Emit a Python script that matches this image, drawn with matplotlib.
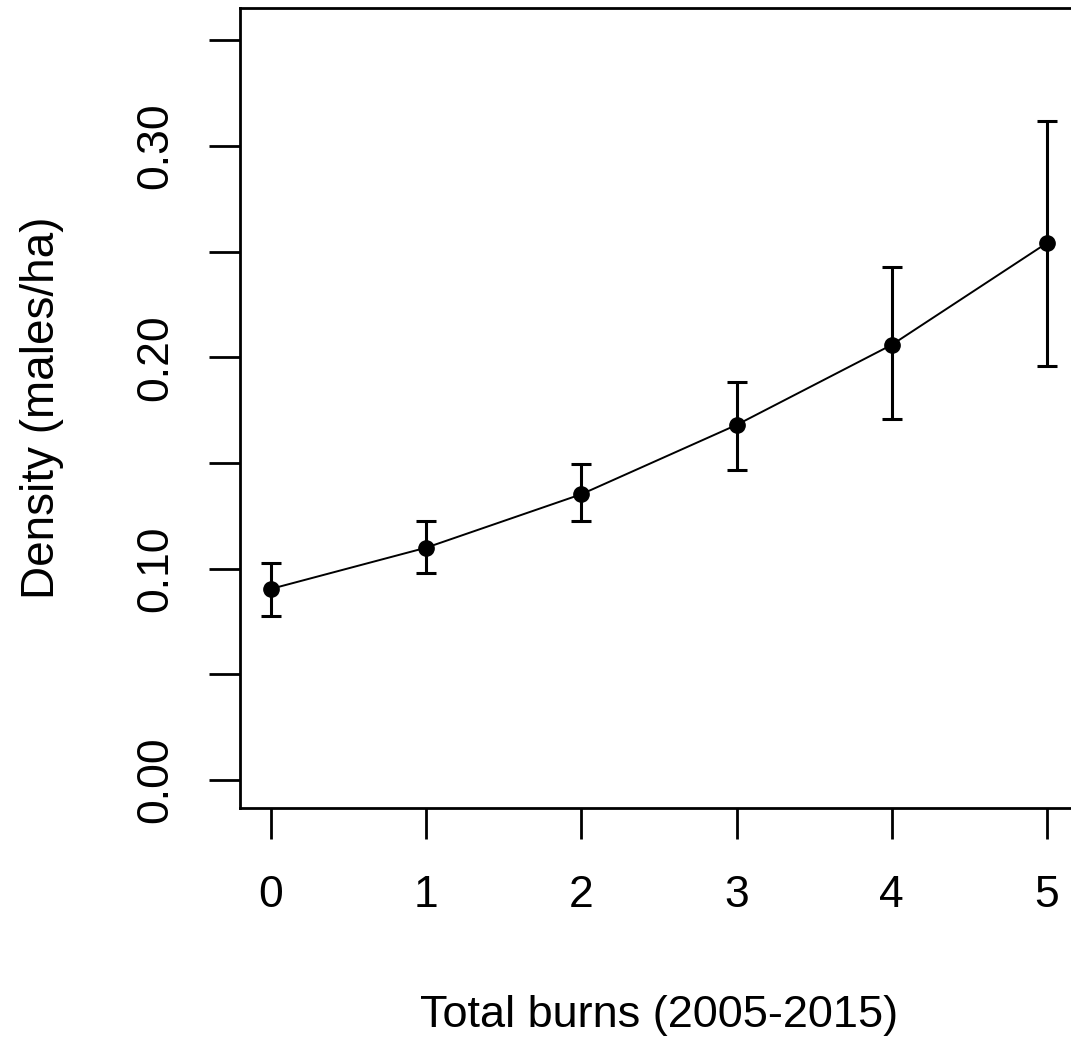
import matplotlib
matplotlib.use("Agg")
import matplotlib.pyplot as plt
import numpy as np

plt.rcParams["font.family"] = ["Liberation Sans", "DejaVu Sans"]

# estimated density per number of burns, with upper/lower CI
burns = [0, 1, 2, 3, 4, 5]
density = [0.0904, 0.1099, 0.1352, 0.1680, 0.2059, 0.2541]
upper = [0.1027, 0.1227, 0.1494, 0.1885, 0.2425, 0.3119]
lower = [0.0776, 0.0978, 0.1226, 0.1467, 0.1708, 0.1959]

yticks = [0.00, 0.05, 0.10, 0.15, 0.20, 0.25, 0.30, 0.35]
ytick_labels = ["0.00", "", "0.10", "", "0.20", "", "0.30", ""]


def main():
    fig = plt.figure(figsize=(10.71, 10.38), dpi=100)
    # R-style plot region; right edge runs past the figure (cropped)
    ax = fig.add_axes([240 / 1071, 230 / 1038, 838 / 1071, 800 / 1038])

    d = np.array(density)
    yerr = [d - np.array(lower), np.array(upper) - d]
    ax.plot(burns, density, color="black", lw=1.4)
    ax.errorbar(burns, density, yerr=yerr, fmt="o", color="black",
                ms=11, elinewidth=2.2, capsize=7.5, capthick=2.2)

    ax.set_xlim(-0.2, 5.2)
    ax.set_ylim(-0.0133, 0.3653)
    ax.set_xticks(burns)
    ax.set_yticks(yticks)
    ax.set_yticklabels(ytick_labels, rotation=90, va="center")

    for sp in ax.spines.values():
        sp.set_linewidth(2)
    ax.tick_params(length=22, width=2, labelsize=32, color="black")
    ax.tick_params(axis="x", pad=26)
    ax.tick_params(axis="y", pad=24)

    ax.set_xlabel("Total burns (2005-2015)", fontsize=32.5, labelpad=57)
    ax.set_ylabel("Density (males/ha)", fontsize=33, labelpad=51)

    fig.savefig("out.png", dpi=100)


if __name__ == "__main__":
    main()
